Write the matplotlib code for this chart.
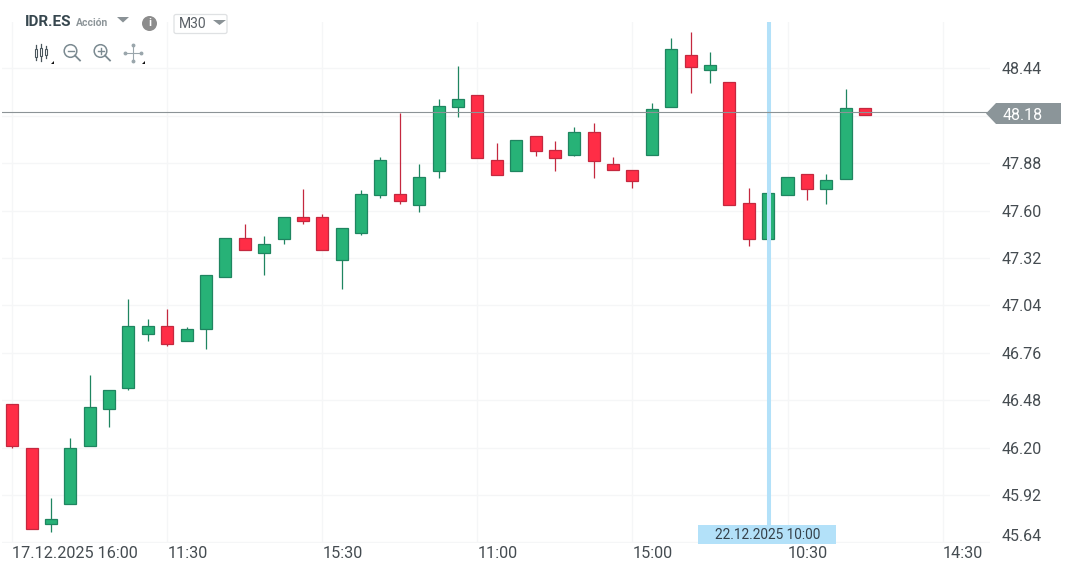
import numpy as np
import matplotlib
matplotlib.use('Agg')
import matplotlib.pyplot as plt
from matplotlib.patches import Polygon, Rectangle, Circle, FancyBboxPatch

plt.rcParams['font.family'] = ['Roboto', 'DejaVu Sans']

# candles
opens = [46.46, 46.20, 45.75, 45.87, 46.21, 46.43, 46.55, 46.87, 46.92, 46.83, 46.90,
         47.21, 47.44, 47.35, 47.43, 47.56, 47.56, 47.31, 47.47, 47.69, 47.70, 47.634,
         47.833, 48.21, 48.285, 47.90, 47.833, 48.04, 47.96, 47.927, 48.063, 47.878,
         47.84, 47.927, 48.21, 48.522, 48.429, 48.358, 47.644, 47.433, 47.693, 47.819,
         47.728, 47.787, 48.205]
closes = [46.21, 45.72, 45.78, 46.20, 46.44, 46.54, 46.92, 46.92, 46.81, 46.90, 47.22,
          47.44, 47.37, 47.40, 47.56, 47.54, 47.37, 47.50, 47.70, 47.90, 47.656, 47.80,
          48.22, 48.26, 47.913, 47.81, 48.02, 47.95, 47.913, 48.063, 47.892, 47.84,
          47.774, 48.203, 48.557, 48.451, 48.462, 47.634, 47.433, 47.703, 47.799, 47.728,
          47.783, 48.205, 48.167]
highs = [46.46, 46.20, 45.90, 46.26, 46.63, 46.54, 47.08, 46.96, 47.02, 46.91, 47.22,
         47.44, 47.52, 47.45, 47.56, 47.73, 47.58, 47.50, 47.72, 47.915, 48.175, 47.874,
         48.26, 48.457, 48.285, 48.00, 48.02, 48.04, 48.01, 48.094, 48.116, 47.917,
         47.84, 48.234, 48.618, 48.654, 48.536, 48.358, 47.732, 47.703, 47.799, 47.819,
         47.815, 48.317, 48.205]
lows = [46.20, 45.72, 45.70, 45.87, 46.21, 46.32, 46.54, 46.83, 46.80, 46.83, 46.78,
        47.21, 47.37, 47.22, 47.40, 47.52, 47.37, 47.14, 47.455, 47.675, 47.64, 47.594,
        47.79, 48.155, 47.913, 47.81, 47.833, 47.92, 47.836, 47.92, 47.79, 47.84,
        47.734, 47.927, 48.21, 48.297, 48.356, 47.634, 47.393, 47.433, 47.693, 47.662,
        47.64, 47.787, 48.167]

price_ticks = [45.64, 45.92, 46.20, 46.48, 46.76, 47.04, 47.32, 47.60, 47.88, 48.16, 48.44]
price_labels = ['', '45.92', '46.20', '46.48', '46.76', '47.04', '47.32', '47.60', '47.88', '', '48.44']
time_ticks = [0, 8, 16, 24, 32, 40, 48]
time_labels = ['17.12.2025 16:00', '11:30', '15:30', '11:00', '15:00', '10:30', '14:30']
last_price = 48.18
cursor_index = 39
cursor_label = '22.12.2025 10:00'

GREEN = '#27b277'
GREEN_EDGE = '#1f8560'
RED = '#ff2d46'
RED_EDGE = '#c4283f'
GRID = '#f5f6f7'
TEXT = '#454c51'

W, H = 1080, 572
fig = plt.figure(figsize=(W / 100, H / 100), dpi=100)
ax = fig.add_axes([2 / W, 1 - 543 / H, 988 / W, 521 / H])
ax.set_xlim(-0.525, 50.447)
ax.set_ylim(45.637, 48.714)
for s in ax.spines.values():
    s.set_visible(False)
ax.set_axisbelow(True)
ax.grid(True, color=GRID, lw=1.0)

idx = np.arange(len(opens))
o = np.array(opens)
c = np.array(closes)
up = c >= o
colors = [GREEN if u else RED for u in up]
edges = [GREEN_EDGE if u else RED_EDGE for u in up]

ax.vlines(idx, lows, highs, colors=edges, lw=0.9, zorder=2)
ax.bar(idx, np.abs(c - o), bottom=np.minimum(o, c), width=0.62, color=colors,
       edgecolor=edges, linewidth=0.9, zorder=3)
ax.axvline(cursor_index + 0.07, color='#b3e1f9', lw=2.9, zorder=3.5)
ax.axhline(last_price, color='#8c9396', lw=0.8, zorder=4)

ax.yaxis.tick_right()
ax.set_yticks(price_ticks, price_labels, fontsize=11.5, color=TEXT)
ax.set_xticks(time_ticks, time_labels, fontsize=11.7, color=TEXT, ha='left')
ax.tick_params(axis='y', length=0, pad=8)
ax.tick_params(axis='x', length=0, pad=2)

# overlay in pixel coordinates for the interface parts
ui = fig.add_axes([0, 0, 1, 1], facecolor='none')
ui.set_xlim(0, W)
ui.set_ylim(H, 0)
ui.axis('off')

# lowest price label sits above its gridline in the original
ui.text(1002, 536.5, '45.64', color=TEXT, fontsize=11.5, va='center')

# last price tag
ui.add_patch(Polygon([(986, 113.5), (996, 103), (1061, 103), (1061, 124), (996, 124)],
                     closed=True, fc='#8b9599', ec='none'))
ui.text(1023, 113.5, '48.18', color='white', fontsize=11.5, ha='center', va='center_baseline')

# cursor date tag
ui.add_patch(Rectangle((698, 525), 138, 18.5, fc='#b3e1f9', ec='none', zorder=5))
ui.text(768, 535, cursor_label, color='#35414a', fontsize=9.8, ha='center', va='center', zorder=6)

# header
ui.add_patch(Rectangle((2, 2), 260, 18, fc='white', ec='none'))
ui.add_patch(Rectangle((14, 20), 150, 42, fc='white', ec='none'))
ui.text(25, 22.5, 'IDR.ES', color='#37474f', fontsize=11, fontweight='bold', va='center')
ui.text(75.5, 22.5, 'Acción', color='#8d9599', fontsize=7.5, fontweight='bold', va='center')
ui.add_patch(Polygon([(117, 17), (129, 17), (123, 22.5)], closed=True, fc='#8a9296', ec='none'))
ui.add_patch(Circle((149.5, 23.5), 7.5, fc='#8c8c8c', ec='none'))
ui.text(149.5, 23.5, 'i', color='white', fontsize=8, fontweight='bold', ha='center', va='center')
ui.add_patch(FancyBboxPatch((174, 14.5), 53, 19, boxstyle='round,pad=0,rounding_size=2',
                            fc='white', ec='#dfe1e3', lw=0.9))
ui.text(178.5, 24.5, 'M30', color='#5a6066', fontsize=10, va='center')
ui.add_patch(Polygon([(213, 20), (226, 20), (219.5, 25)], closed=True, fc='#8a9296', ec='none'))

# toolbar icons
ICON = '#7b8a91'
for x0, yb, yt, wb, wt in [(36, 49, 57, 45, 60), (41, 48, 56, 44, 61), (46, 49, 55, 46, 58)]:
    ui.plot([x0, x0], [wb, wt], color='#4a565c', lw=0.9)
    ui.add_patch(Rectangle((x0 - 1.3, yb), 2.6, yt - yb, fc='white', ec='#4a565c', lw=0.8, zorder=3))
for cx, sign in [(71, '-'), (101, '+')]:
    ui.add_patch(Circle((cx - 0.5, 51), 6.3, fc='none', ec=ICON, lw=1.1))
    ui.plot([cx + 4, cx + 9], [55.5, 60.5], color=ICON, lw=1.3)
    ui.plot([cx - 3.5, cx + 2.5], [51, 51], color=ICON, lw=1)
    if sign == '+':
        ui.plot([cx - 0.5, cx - 0.5], [48, 54], color=ICON, lw=1)
ui.plot([125, 141], [53, 53], color='#9aa6ac', lw=0.8)
ui.plot([133, 133], [45, 61], color='#9aa6ac', lw=0.8)
for px, py in [(125, 53), (141, 53), (133, 45), (133, 61)]:
    ui.plot(px, py, 'o', ms=1.8, color='#9aa6ac')
for tx in (51, 142):
    ui.add_patch(Polygon([(tx, 64), (tx + 3, 64), (tx + 3, 61)], closed=True, fc='#111111', ec='none'))

fig.savefig('out.png', dpi=100)
